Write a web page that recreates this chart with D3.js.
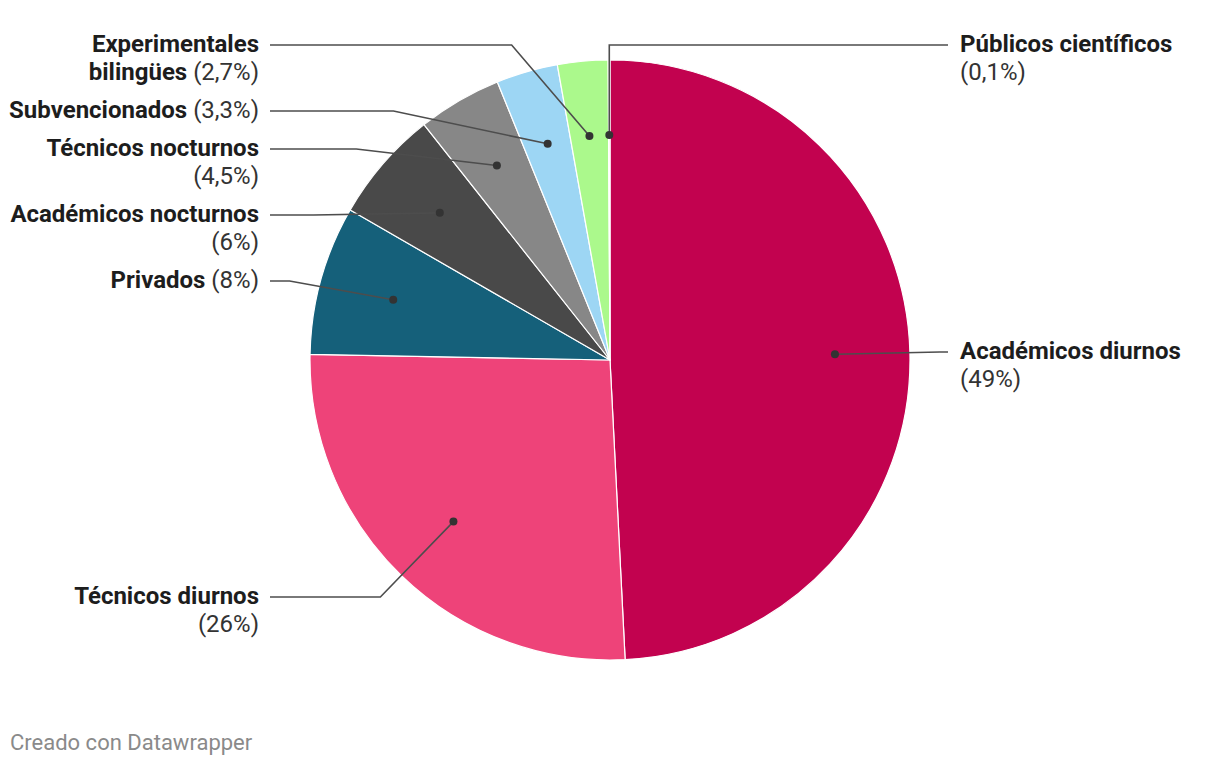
<!DOCTYPE html>
<html>
<head>
<meta charset="utf-8">
<script src="https://cdn.jsdelivr.net/npm/d3@7"></script>
<style>
  html, body { margin: 0; padding: 0; background: #fff; }
  svg { display: block; font-family: Roboto, "Noto Sans", sans-serif; }
</style>
</head>
<body>
<svg id="chart" width="1220" height="766"></svg>
<script>
// ---- data ----
const categories = [
  "Académicos diurnos",
  "Técnicos diurnos",
  "Privados",
  "Académicos nocturnos",
  "Técnicos nocturnos",
  "Subvencionados",
  "Experimentales bilingües",
  "Públicos científicos"
];
const values = [49, 26, 8, 6, 4.5, 3.3, 2.7, 0.1];
const percentLabels = ["49%", "26%", "8%", "6%", "4,5%", "3,3%", "2,7%", "0,1%"];
const colors = ["#c2024f", "#ee4379", "#15607a", "#494949", "#878787", "#9dd6f4", "#abf98c", "#f4d9b8"];

// ---- label layout (side, first-line y, word index where a line break goes; -1 = none) ----
const labelSide = ["right", "left", "left", "left", "left", "left", "left", "right"];
const labelY = [351, 596, 280, 214, 148, 110, 44, 44];
const labelBreak = [2, 2, -1, 2, 2, -1, 1, 2];
const verticalElbow = [false, false, false, false, false, false, false, true];

// ---- layout ----
const cx = 610, cy = 360, R = 300;
const dotR = R * 0.75, elbowR = R * 1.1;
const leftTextX = 259, rightTextX = 960;
const lineLeftEnd = 270, lineRightEnd = 948;
const lineHeight = 28;
const fontSize = 24;

const svg = d3.select("#chart");
const g = svg.append("g").attr("transform", `translate(${cx},${cy})`);

const data = categories.map((c, i) => ({ name: c, value: values[i], pct: percentLabels[i], color: colors[i], i }));

const pie = d3.pie().value(d => d.value).sort(null);
const arcs = pie(data);
const arc = d3.arc().innerRadius(0).outerRadius(R);
const dotArc = d3.arc().innerRadius(dotR).outerRadius(dotR);

g.selectAll("path.slice")
  .data(arcs)
  .join("path")
  .attr("class", "slice")
  .attr("d", arc)
  .attr("fill", d => d.data.color)
  .attr("stroke", "#fff")
  .attr("stroke-width", 1.2)
  .attr("stroke-linejoin", "round");

// leader lines
const lines = svg.append("g");
arcs.forEach((a, i) => {
  const [dx, dy] = dotArc.centroid(a);
  const px = cx + dx, py = cy + dy;
  const ly = labelY[i] + 1;
  const side = labelSide[i];
  const relY = ly - cy;
  let ex;
  if (verticalElbow[i]) {
    ex = px;
  } else {
    const off = Math.sqrt(Math.max(0, elbowR * elbowR - relY * relY));
    ex = side === "left" ? cx - off : cx + off;
  }
  const endX = side === "left" ? lineLeftEnd : lineRightEnd;
  lines.append("path")
    .attr("d", d3.line()([[endX, ly], [ex, ly], [px, py]]))
    .attr("fill", "none")
    .attr("stroke", "#4d4d4d")
    .attr("stroke-width", 1.6);
  lines.append("circle")
    .attr("cx", px).attr("cy", py).attr("r", 4)
    .attr("fill", "#333");
});

// labels
const labels = svg.append("g").attr("font-size", fontSize);
data.forEach((d, i) => {
  const words = d.name.split(" ").map(w => ({ t: w, bold: true }));
  words.push({ t: "(" + d.pct + ")", bold: false });
  const brk = labelBreak[i];
  const lns = brk < 0 ? [words] : [words.slice(0, brk), words.slice(brk)];
  const side = labelSide[i];
  const text = labels.append("text")
    .attr("text-anchor", side === "left" ? "end" : "start")
    .attr("dominant-baseline", "central");
  lns.forEach((ln, li) => {
    const x = side === "left" ? leftTextX : rightTextX;
    ln.forEach((w, wi) => {
      const ts = text.append("tspan")
        .text((wi > 0 ? " " : "") + w.t)
        .attr("font-weight", w.bold ? 700 : 400)
        .attr("fill", w.bold ? "#1d1d1d" : "#333");
      if (wi === 0) ts.attr("x", x).attr("y", labelY[i] + li * lineHeight);
    });
  });
});

// footer
svg.append("text")
  .attr("x", 10).attr("y", 750)
  .attr("font-size", 22)
  .attr("fill", "#8a8a8a")
  .text("Creado con Datawrapper");
</script>
</body>
</html>
